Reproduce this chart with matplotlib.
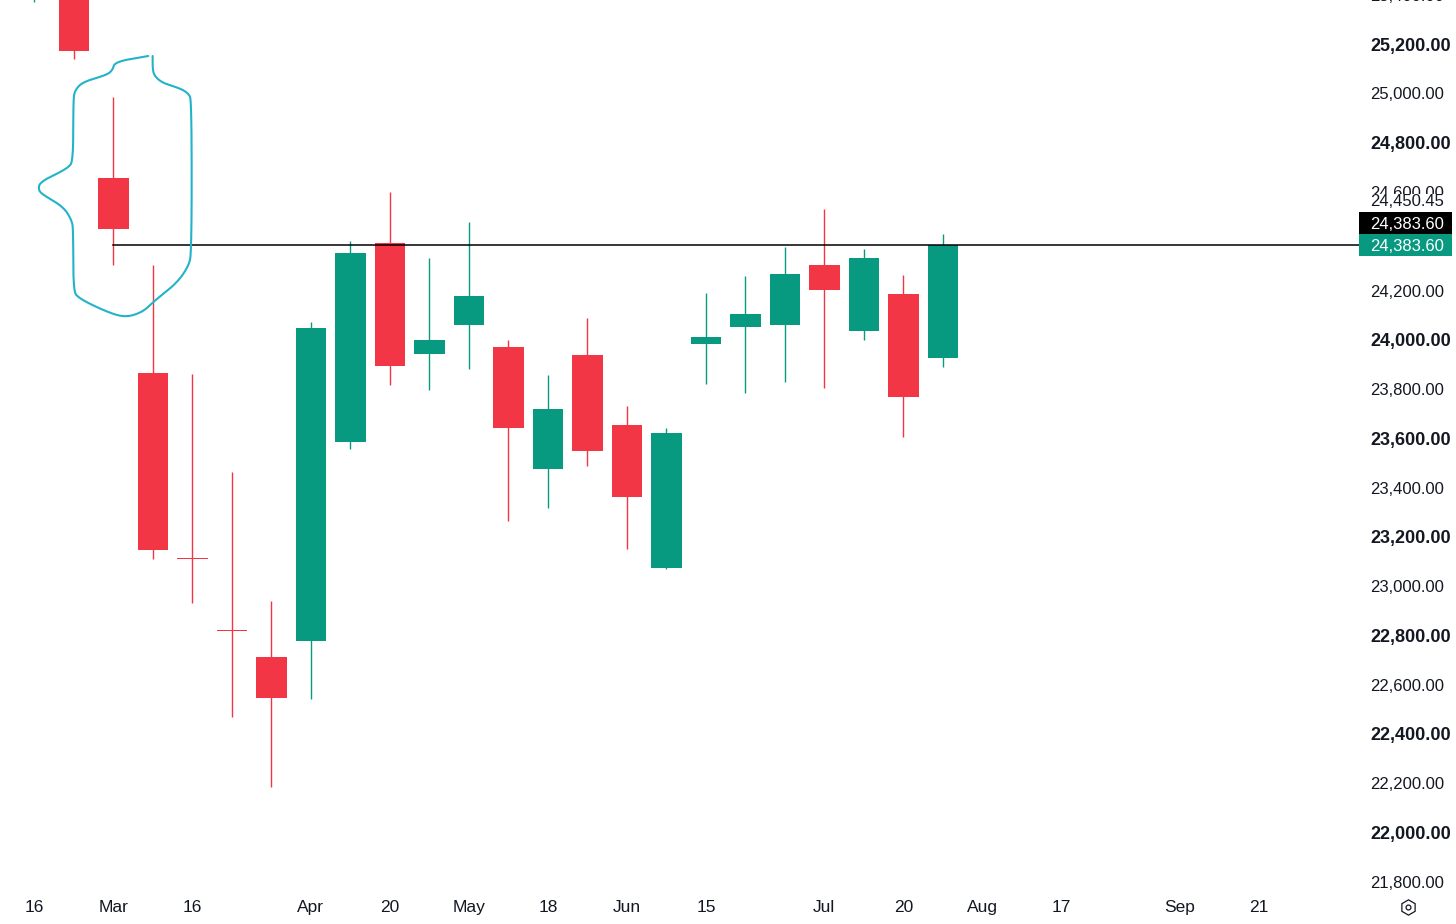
import matplotlib
matplotlib.use("Agg")
import matplotlib.pyplot as plt
import matplotlib.transforms as mtransforms
from matplotlib.lines import Line2D
from matplotlib.patches import Rectangle
import numpy as np

plt.rcParams['font.family'] = ['Liberation Sans', 'DejaVu Sans']

# ---- data (weekly candles, week index 0 = Feb 16) ----
weeks  = list(range(0, 24))
opens  = [25450, 25480, 24655.4, 23864.7, 23116, 22824, 22711.6, 22779.0, 23586.3, 24392.0,
          23943.1, 24058.3, 23969.5, 23476.7, 23937.0, 23654.1, 23074.9, 23984.1, 24051.9,
          24058.8, 24302.3, 24034.4, 24187.0, 23924.8]
highs  = [25700, 25550, 24984.2, 24303.1, 23860.3, 23463.3, 22937.7, 24072.1, 24400.1, 24599.0,
          24331.5, 24478.4, 23999.1, 23858.2, 24088.4, 23731.2, 23643.1, 24188.6, 24260.1,
          24375.3, 24530.8, 24367.2, 24262.9, 24428.1]
lows   = [25372, 25140.9, 24303.5, 23111.4, 22933.6, 22470.9, 22186.0, 22542.0, 23556.3, 23815.6,
          23794.9, 23883.0, 23263.2, 23317.2, 23486.4, 23152.0, 23071.6, 23820.5, 23784.0,
          23827.4, 23804.3, 23997.9, 23604.2, 23890.7]
closes = [25600, 25173.3, 24448.4, 23148.7, 23110, 22818, 22547.6, 24048.6, 24352.2, 23895.2,
          23998.3, 24176.5, 23643.1, 23719.0, 23547.3, 23363.1, 23622.8, 24012.5, 24103.4,
          24267.0, 24203.2, 24331.9, 23766.5, 24383.6]

level_price = 24383.60
level_start_week = 2
last_price_label = "24,383.60"
high_label = "24,450.45"

xtick_pos = [0, 2, 4, 7, 9, 11, 13, 15, 17, 20, 22, 24, 26, 29, 31]
xtick_lab = ["16", "Mar", "16", "Apr", "20", "May", "18", "Jun", "15",
             "Jul", "20", "Aug", "17", "Sep", "21"]

ytick_vals = [21800, 22000, 22200, 22400, 22600, 22800, 23000, 23200, 23400, 23600,
              23800, 24000, 24200, 24600, 24800, 25000, 25200]
bold_vals = {22000, 22400, 22800, 23200, 23600, 24000, 24400, 24800, 25200}

# hand-drawn bracket annotation (week, price)
bracket_w = [2.881, 2.038, 1.980, 1.828, 1.235, 1.025, 0.982, 0.982, 0.856, 0.139, 0.096,
             0.223, 0.729, 0.942, 0.982, 0.982, 1.109, 1.911, 2.334, 2.754, 3.008, 3.600,
             3.894, 3.980, 3.980, 3.894, 3.684, 3.261, 3.051, 2.992, 2.992]
bracket_p = [25151.8, 25128.7, 25095.0, 25074.7, 25047.5, 25013.8, 24973.2, 24729.7, 24696.0,
             24641.6, 24607.9, 24587.6, 24540.1, 24486.2, 24445.6, 24202.0, 24168.3, 24107.5,
             24091.2, 24114.0, 24154.5, 24229.2, 24296.6, 24351.0, 24973.2, 25000.4, 25020.7,
             25041.0, 25067.8, 25095.0, 25151.8]

UP = "#089981"
DOWN = "#F23645"
BRACKET = "#22B3C9"
TXT = "#131722"

W, H = 1456, 924
fig = plt.figure(figsize=(W / 100, H / 100), dpi=100)
fig.patch.set_facecolor("white")
ax_left, ax_right, ax_top, ax_bottom = 0, 1356, 0, 892
ax = fig.add_axes([ax_left / W, (H - ax_bottom) / H, (ax_right - ax_left) / W, (ax_bottom - ax_top) / H])
ax.set_facecolor("white")

for w, o, h, l, c in zip(weeks, opens, highs, lows, closes):
    col = UP if c >= o else DOWN
    ax.vlines(w, l, h, color=col, lw=1.0, zorder=2)
    ax.bar(w, abs(c - o), bottom=min(o, c), width=0.77, color=col, linewidth=0, zorder=3)

ax.set_xlim(-0.873, 33.46)
ax.set_ylim(21758.6, 25379.1)

# horizontal level line
ax.plot([level_start_week, 34.0], [level_price, level_price], color="black", lw=1.1,
        zorder=4, clip_on=False)

# bracket (hand-drawn stroke, corner-cut smoothing in display space)
pts = ax.transData.transform(np.column_stack([bracket_w, bracket_p]))
for _ in range(4):
    q = 0.75 * pts[:-1] + 0.25 * pts[1:]
    r = 0.25 * pts[:-1] + 0.75 * pts[1:]
    mid = np.empty((2 * len(q), 2))
    mid[0::2] = q
    mid[1::2] = r
    pts = np.vstack([pts[0], mid, pts[-1]])
ax.plot(pts[:, 0], pts[:, 1], color=BRACKET, lw=1.5, solid_joinstyle="round",
        solid_capstyle="round", zorder=5, transform=mtransforms.IdentityTransform())

for s in ax.spines.values():
    s.set_visible(False)

ax.set_xticks(xtick_pos)
ax.set_xticklabels(xtick_lab)
ax.tick_params(axis="x", length=0, pad=5.5, labelsize=12.5, labelcolor=TXT)

ax.yaxis.tick_right()
ax.set_yticks(ytick_vals)
ax.set_yticklabels([f"{v:,.2f}" for v in ytick_vals])
ax.tick_params(axis="y", length=0, pad=10, labelsize=12, labelcolor=TXT)
for lab, v in zip(ax.get_yticklabels(), ytick_vals):
    lab.set_ha("left")
    lab.set_va("center_baseline")
    if v in bold_vals:
        lab.set_fontweight("bold")
        lab.set_fontsize(13)

ytr = mtransforms.blended_transform_factory(ax.transAxes, ax.transData)

def px_off(dx, dy):
    return mtransforms.ScaledTranslation(dx / 100, dy / 100, fig.dpi_scale_trans)

# partially visible top label
ax.text(1.0, 25400, "25,400.00", transform=ytr + px_off(14, 0),
        ha="left", va="center_baseline", fontsize=12, color=TXT, clip_on=False)

# price label boxes
y_disp = ax.transData.transform((0, level_price))[1]
for off, colr in [(0, UP), (22, "black")]:
    fig.add_artist(Rectangle((1359, y_disp - 11 + off), 93, 22, facecolor=colr, edgecolor="none",
                             transform=mtransforms.IdentityTransform(), zorder=10))

fig.text(1370 / W, (y_disp) / H, last_price_label, ha="left", va="center_baseline",
         fontsize=12, color="white", zorder=11)
fig.text(1370 / W, (y_disp + 22) / H, last_price_label, ha="left", va="center_baseline",
         fontsize=12, color="white", zorder=11)
fig.text(1370 / W, (y_disp + 45) / H, high_label, ha="left", va="center_baseline",
         fontsize=12, color=TXT, zorder=11,
         bbox=dict(facecolor="white", edgecolor="none", pad=0.5))

# settings icon
fig.add_artist(Line2D([1408 / W], [1 - 907 / H], marker="h", markersize=11, markerfacecolor="none",
                      markeredgecolor=TXT, markeredgewidth=0.9, transform=fig.transFigure))
fig.add_artist(Line2D([1408 / W], [1 - 907 / H], marker="o", markersize=3.5, markerfacecolor="none",
                      markeredgecolor=TXT, markeredgewidth=0.9, transform=fig.transFigure))

fig.savefig("out.png", dpi=100, facecolor="white")
